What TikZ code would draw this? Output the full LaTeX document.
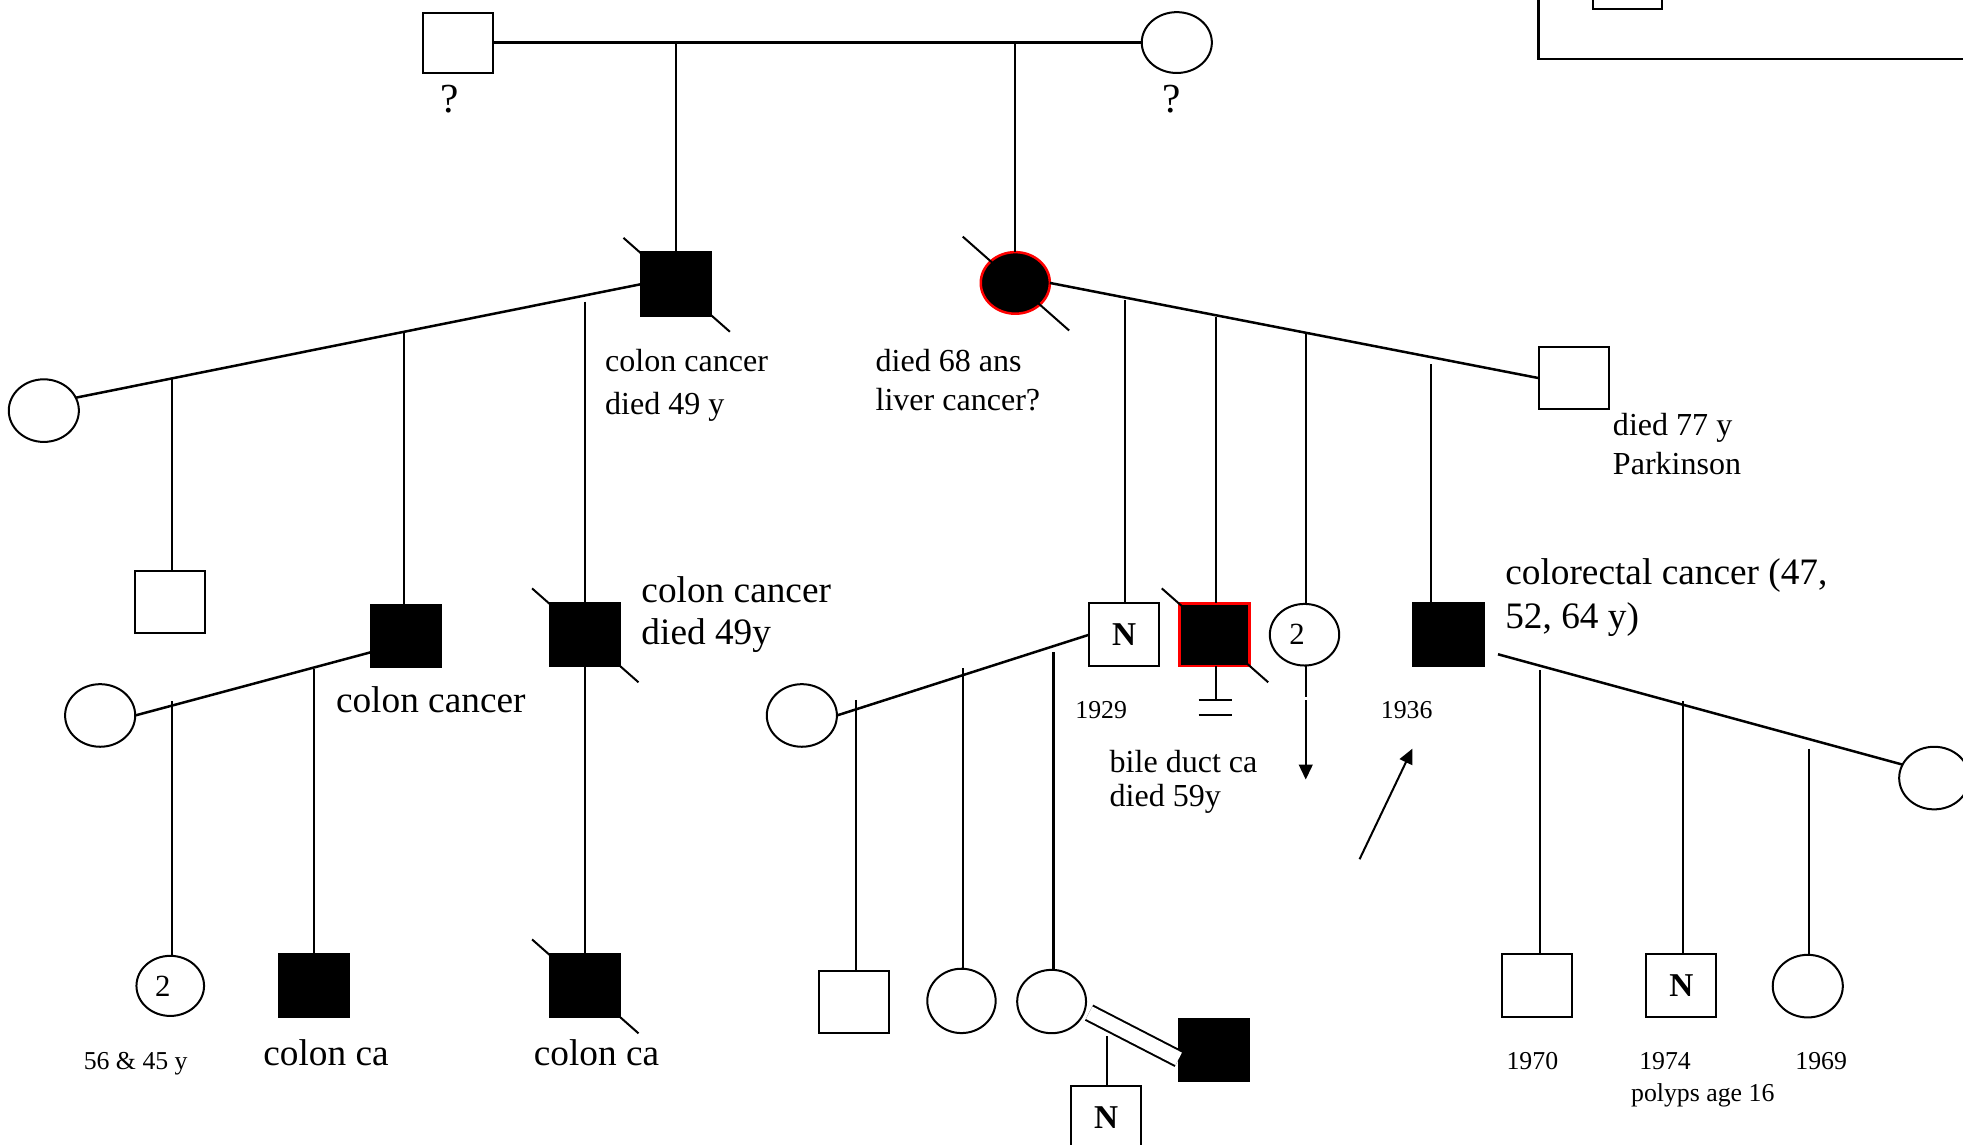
\documentclass[tikz,border=0pt]{standalone}
\usepackage{fontspec}
\setmainfont{Liberation Serif}
\usetikzlibrary{shapes.geometric,arrows.meta,calc}
\begin{document}
\begin{tikzpicture}[x=0.5pt,y=-0.5pt,
  ln/.style={line width=0.8pt},
  mline/.style={line width=1pt},
  sqr/.style={rectangle,draw,line width=0.8pt,minimum width=28pt,minimum height=25pt,inner sep=0pt,outer sep=0pt},
  aff/.style={sqr,fill=black},
  fem/.style={ellipse,draw,line width=0.8pt,minimum width=28pt,minimum height=24.5pt,inner sep=0pt,outer sep=0pt},
  lbl/.style={inner sep=0pt,anchor=base west},
  big/.style={lbl,font=\fontsize{14.9pt}{17pt}\selectfont},
  med/.style={lbl,font=\fontsize{12.8pt}{15pt}\selectfont},
  sml/.style={lbl,font=\fontsize{10.3pt}{12pt}\selectfont},
  qm/.style={inner sep=0pt,anchor=base,font=\fontsize{16.5pt}{18pt}\selectfont},
  nlet/.style={font=\bfseries\fontsize{13.3pt}{15pt}\selectfont},
  twol/.style={font=\fontsize{12.3pt}{14pt}\selectfont},
  slash/.style={line width=0.8pt},
  arr/.style={line width=0.8pt,-{Triangle[length=6pt,width=5.5pt]}}
]
\useasboundingbox (0,0) rectangle (1568,914);
\clip (0,0) rectangle (1568,914);

% partial legend box at top right
\draw[line width=1pt] (1229,-20) -- (1229,47) -- (1600,47);
\node[sqr, minimum width=27.5pt] (legsq) at (1300,-18) {};

% generation 1
\node[sqr, minimum height=24pt] (F0) at (366,34) {};
\node[fem, minimum height=24.3pt] (M0) at (940,34) {};
\node[qm] (q1) at (359,90) {?};
\node[qm] (q2) at (936,90) {?};

% generation 2
\node[aff, minimum height=25.5pt] (A) at (540,227) {};
\node[fem, minimum height=25pt] (SA) at (35,328) {};
\node[fem, fill=black, draw=red, line width=1pt, minimum width=27.6pt, minimum height=24.6pt] (B) at (811,226) {};
\node[sqr, minimum height=24.5pt] (SB) at (1257,302) {};
\node[med] (la1) at (483,297) {colon cancer};
\node[med] (la2) at (483,331) {died 49 y};
\node[med] (lb1) at (699,297) {died 68 ans};
\node[med] (lb2) at (699,328) {liver cancer?};
\node[med] (ls1) at (1288,348) {died 77 y};
\node[med] (ls2) at (1288,379) {Parkinson};

% generation 3
\node[sqr] (U1) at (136,481) {};
\node[aff] (C) at (324,508) {};
\node[aff] (D) at (467,507) {};
\node[fem, minimum height=25pt] (SC) at (80,571.5) {};
\node[big] (lc) at (268,569.5) {colon cancer};
\node[big] (ld1) at (512,481) {colon cancer};
\node[big] (ld2) at (512,515) {died 49y};
\node[sqr, nlet] (N1) at (898,507) {N};
\node[aff, draw=red, line width=1pt] (G) at (970,507) {};
\node[fem, twol, minimum height=24.6pt, minimum width=27.7pt] (H) at (1042,507) {2\kern6pt};
\node[aff] (I) at (1157,507) {};
\node[fem, minimum height=25pt] (SN) at (640.5,571.5) {};
\node[fem, minimum height=25pt] (SI) at (1545,621.5) {};
\node[sml] (y1) at (858.6,574) {1929};
\node[sml] (y2) at (1102.6,574) {1936};
\node[med] (lg1) at (886,617) {bile duct ca};
\node[med] (lg2) at (886,644) {died 59y};
\node[big] (li1) at (1202,467) {colorectal cancer (47,};
\node[big] (li2) at (1202,502) {52, 64 y)};

% generation 4
\node[fem, twol, minimum width=27pt, minimum height=24pt] (C1) at (136,787.5) {2\kern6pt};
\node[aff] (C2) at (250.6,787.4) {};
\node[aff] (F) at (467,787.4) {};
\node[sml] (l56) at (66.5,854) {56 \& 45 y};
\node[big] (lc2) at (210,851) {colon ca};
\node[big] (lf) at (426,851) {colon ca};
\node[sqr] (K1) at (682,800.4) {};
\node[fem, minimum width=27.3pt, minimum height=25.7pt] (K2) at (768,799.5) {};
\node[fem, minimum width=27.5pt, minimum height=25.3pt] (K3) at (840,800) {};
\node[aff] (L) at (969.5,838.8) {};
\node[sqr, nlet] (Lc) at (883.6,892.7) {N};
\node[sqr] (I1) at (1228,787.4) {};
\node[sqr, nlet] (I2) at (1343,787.4) {N};
\node[fem, minimum height=25pt] (I3) at (1444,787.7) {};
\node[sml] (y70) at (1203,854) {1970};
\node[sml] (y74) at (1309,854) {1974};
\node[sml] (y69) at (1433.7,854) {1969};
\node[sml] (lp) at (1302.5,880) {polyps age 16};

% deceased slashes
\foreach \n in {A,B,D,F,G}
  \draw[slash] ($(\n.center)+(-42,-37)$) -- ($(\n.center)+(43,38)$);

% gen 1 connections
\draw[mline] (F0.east) -- (M0.west);
\coordinate (t1) at (540,35);
\coordinate (t2) at (811,35);
\draw[ln] (t1) -- (A.north);
\draw[ln] (t2) -- (B.north);

% A family
\draw[mline] (A.west) -- (SA.22);
\coordinate (a1) at (137,302);
\coordinate (a2) at (323,265);
\coordinate (a3) at (467,241);
\draw[ln] (a1) -- (a1 |- U1.north);
\draw[ln] (a2) -- (a2 |- C.north);
\draw[ln] (a3) -- (D.north);

% B family
\draw[mline] (B.east) -- (SB.west);
\coordinate (b1) at (899,240);
\coordinate (b2) at (971,253);
\coordinate (b3) at (1043,266);
\coordinate (b4) at (1143,291);
\draw[ln] (b1) -- (b1 |- N1.north);
\draw[ln] (b2) -- (b2 |- G.north);
\draw[ln] (b3) -- (b3 |- H.north);
\draw[ln] (b4) -- (b4 |- I.north);

% C family
\draw[mline] (C.205) -- (SC.east);
\coordinate (c1) at (137,560);
\coordinate (c2) at (251,534.4);
\draw[ln] (c1) -- (c1 |- C1.north);
\draw[ln] (c2) -- (c2 |- C2.north);

% D to F
\draw[ln] (D.south) -- (F.north);

% N1 family
\draw[mline] (N1.west) -- (SN.east);
\coordinate (n1) at (683.5,559);
\coordinate (n2) at (769.5,533.6);
\coordinate (n3) at (841.5,521);
\draw[ln] (n1) -- (n1 |- K1.north);
\draw[ln] (n2) -- (n2 |- K2.north);
\draw[ln] (n3) -- (n3 |- K3.north);

% G: no children / infertility
\coordinate (g1) at (971,558);
\draw[ln] (g1 |- G.south) -- (g1);
\coordinate (g2) at (957.4,559);
\coordinate (g3) at (984,559);
\coordinate (g4) at (957.4,571.5);
\coordinate (g5) at (984,571.5);
\draw[ln] (g2) -- (g3);
\draw[ln] (g4) -- (g5);

% H: arrow down
\coordinate (h1) at (1043,557);
\coordinate (h2) at (1043,559.5);
\coordinate (h3) at (1043,622.7);
\draw[ln] (h1 |- H.south) -- (h1);
\draw[arr] (h2) -- (h3);

% proband arrow
\coordinate (pa) at (1086,686.3);
\coordinate (pb) at (1128.2,598);
\draw[arr] (pa) -- (pb);

% I family
\draw[mline, shorten <=6pt] (I.-24) -- (SI.157);
\coordinate (i1) at (1230,535);
\coordinate (i2) at (1344.6,560);
\coordinate (i3) at (1445,598);
\draw[ln] (i1) -- (i1 |- I1.north);
\draw[ln] (i2) -- (i2 |- I2.north);
\draw[ln] (i3) -- (i3 |- I3.north);

% consanguineous union K3 = L
\draw[line width=0.8pt, double, double distance=5.6pt, shorten <=2pt] (K3.-15) -- (L.194);
\coordinate (kd) at (884.2,827.7);
\draw[ln] (kd) -- (kd |- Lc.north);
\end{tikzpicture}
\end{document}
